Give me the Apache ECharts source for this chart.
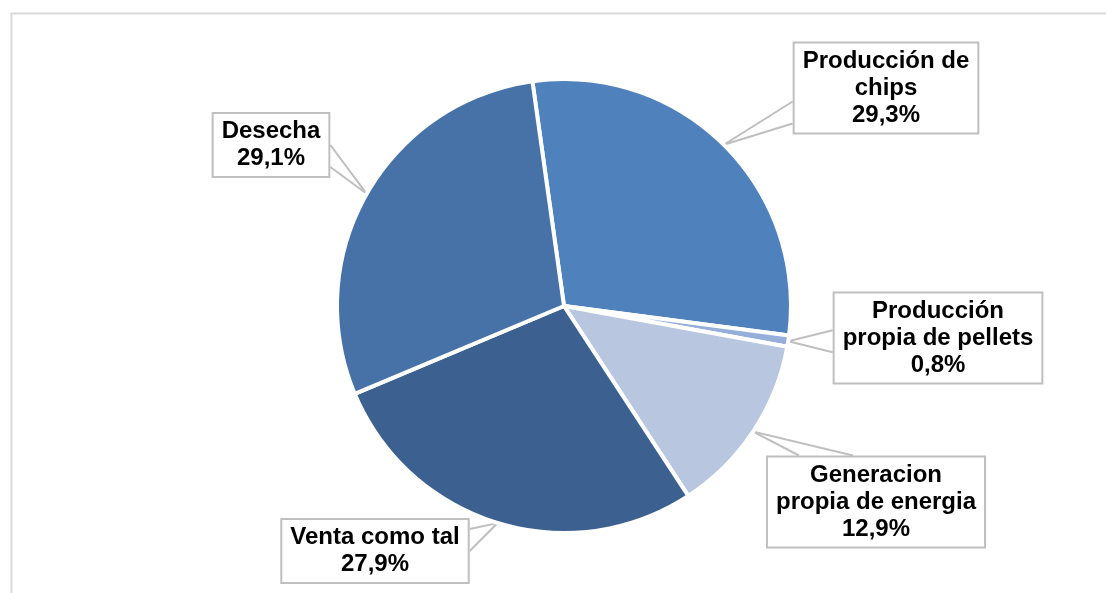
<!DOCTYPE html>
<html>
<head>
<meta charset="utf-8">
<script src="https://cdn.jsdelivr.net/npm/echarts@6/dist/echarts.min.js"></script>
<style>
  html, body { margin: 0; padding: 0; background: #fff; }
  #chartDom { width: 1106px; height: 593px; }
</style>
</head>
<body>
<div id="chartDom"></div>
<script>
// slices, clockwise from the top
const categories = ['Producción de\nchips', 'Producción\npropia de pellets', 'Generacion\npropia de energia', 'Venta como tal', 'Desecha'];
const shares = [29.3, 0.8, 12.9, 27.9, 29.1];
const colors = ['#4F81BD', '#95AEDA', '#B9C6E0', '#3C6090', '#4672A8'];

// where each callout box sits (center)
const labelPos = [[886, 88], [938, 338], [876, 502], [375, 551], [271, 145]];

const myChart = echarts.init(document.getElementById('chartDom'));

function clamp(v, a, b) { return Math.min(Math.max(v, a), b); }

const option = {
  animation: false,
  graphic: [{
    type: 'rect',
    left: 9, top: 11,
    shape: { width: 1200, height: 700 },
    style: { fill: 'none', stroke: '#D9D9D9', lineWidth: 2 }
  }],
  series: [{
    type: 'pie',
    center: [564, 306],
    radius: 227,
    startAngle: 98,
    clockwise: true,
    avoidLabelOverlap: false,
    data: categories.map((name, i) => ({ name: name, value: shares[i], itemStyle: { color: colors[i] } })),
    itemStyle: { borderColor: '#fff', borderWidth: 4 },
    label: {
      show: true,
      position: 'outside',
      formatter: p => p.name + '\n' + p.value.toFixed(1).replace('.', ',') + '%',
      fontFamily: '"Liberation Sans", Arial, sans-serif',
      fontWeight: 'bold',
      fontSize: 24,
      lineHeight: 27,
      color: '#000',
      align: 'center',
      backgroundColor: '#fff',
      borderColor: '#BFBFBF',
      borderWidth: 2,
      padding: [5, 8, 3, 8]
    },
    labelLine: {
      show: true,
      length: 20,
      length2: 20,
      lineStyle: { color: '#BFBFBF', width: 2 }
    },
    labelLayout: function (params) {
      const p = labelPos[params.dataIndex];
      const w = params.labelRect.width, h = params.labelRect.height;
      const x0 = p[0] - w / 2, y0 = p[1] - h / 2;
      const s = params.labelLinePoints[0];
      // callout wedge: two lines from the slice edge to the facing side of the box
      const dx = (s[0] - p[0]) / w, dy = (s[1] - p[1]) / h;
      let a, b;
      if (Math.abs(dx) > Math.abs(dy)) {
        const ex = dx < 0 ? x0 : x0 + w;
        const cy = clamp(s[1], y0 + 22, y0 + h - 22);
        a = [ex, cy - 11]; b = [ex, cy + 11];
      } else {
        const ey = dy < 0 ? y0 : y0 + h;
        const cx = clamp(s[0], x0 + 60, x0 + w - 60);
        a = [cx - 27, ey]; b = [cx + 27, ey];
      }
      return {
        x: p[0], y: p[1], align: 'center', verticalAlign: 'middle',
        labelLinePoints: [a, s, b]
      };
    },
    emphasis: { disabled: true }
  }]
};

myChart.setOption(option);
</script>
</body>
</html>
